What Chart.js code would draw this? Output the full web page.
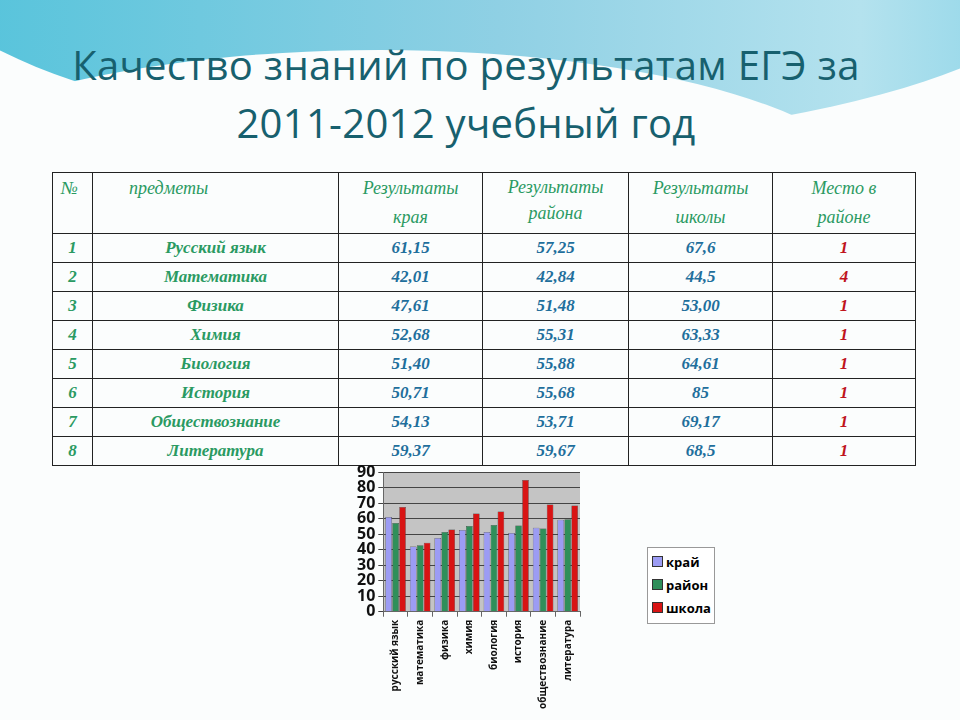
<!DOCTYPE html>
<html>
<head>
<meta charset="utf-8">
<script src="https://cdn.jsdelivr.net/npm/chart.js@4"></script>
<style>
  body { margin: 0; width: 960px; height: 720px; overflow: hidden; background: #fbfdfd; position: relative; font-family: "Open Sans", sans-serif; }
  .bgtop { position: absolute; left: -100px; top: -260px; width: 1200px; height: 400px; border-radius: 50%;
    background: linear-gradient(90deg, #4fc2da 0%, #8fd0e4 50%, #b4e2ee 80%, #7fd0e6 100%); }
  .bgcut { position: absolute; left: -120px; top: 50px; width: 1000px; height: 300px; border-radius: 50%; background: #fbfdfd; }
  h1 { position: absolute; left: -14px; top: 36px; width: 960px; margin: 0; text-align: center; font-weight: normal;
    font-family: "Open Sans", sans-serif; font-size: 40px; line-height: 58px; color: #17606e; letter-spacing: 0.3px; }
  table { position: absolute; left: 52px; top: 172px; border-collapse: collapse; font-family: "Liberation Serif", serif; font-style: italic; }
  td { border: 1.5px solid #222; padding: 0; text-align: center; height: 28px; font-weight: bold; font-size: 17px; color: #1f6f9c; }
  th { border: 1.5px solid #222; font-weight: normal; font-size: 18px; color: #2a9a62; height: 58px; vertical-align: top; line-height: 29px; }
  td.g { color: #2a9a62; }
  td.r { color: #c0141c; }
  #wrap { position: absolute; left: 350px; top: 462px; width: 250px; height: 250px; }
  #legend { position: absolute; left: 647px; top: 547px; width: 62px; border: 1px solid #999; background: #fff; padding: 3px 0 3px 4px;
    font: bold 13px "Open Sans", sans-serif; }
  #legend div { height: 23px; line-height: 23px; }
  #legend span { display: inline-block; width: 9px; height: 9px; border: 1px solid #333; margin-right: 3px; }
</style>
</head>
<body>
<div class="bgtop"></div><div class="bgcut"></div>
<h1>Качество знаний по результатам ЕГЭ за<br>2011-2012 учебный год</h1>
<table id="tbl">
  <colgroup><col style="width:40px"><col style="width:246px"><col style="width:144px"><col style="width:146px"><col style="width:144px"><col style="width:143px"></colgroup>
  <tr><th style="text-align:left;padding-left:8px">№</th><th style="text-align:left;padding-left:36px">предметы</th><th>Результаты<br>края</th><th style="line-height:26px">Результаты<br>района</th><th>Результаты<br>школы</th><th>Место в<br>районе</th></tr>
</table>
<div id="wrap"><canvas id="chart"></canvas></div>
<div id="legend"></div>
<script>
const subjects = ["Русский язык", "Математика", "Физика", "Химия", "Биология", "История", "Обществознание", "Литература"];
const krai = [61.15, 42.01, 47.61, 52.68, 51.40, 50.71, 54.13, 59.37];
const raion = [57.25, 42.84, 51.48, 55.31, 55.88, 55.68, 53.71, 59.67];
const shkola = [67.6, 44.5, 53.00, 63.33, 64.61, 85, 69.17, 68.5];
const shkolaText = ["67,6", "44,5", "53,00", "63,33", "64,61", "85", "69,17", "68,5"];
const places = [1, 4, 1, 1, 1, 1, 1, 1];
const seriesNames = ["край", "район", "школа"];
const seriesColors = ["#9c9cf4", "#2f8f5a", "#d81414"];

const fmt = v => v.toFixed(2).replace(".", ",");
const tbl = document.getElementById("tbl");
subjects.forEach((s, i) => {
  const tr = document.createElement("tr");
  tr.innerHTML = `<td class="g">${i + 1}</td><td class="g">${s}</td><td>${fmt(krai[i])}</td><td>${fmt(raion[i])}</td><td>${shkolaText[i]}</td><td class="r">${places[i]}</td>`;
  tbl.appendChild(tr);
});

const values = [krai, raion, shkola];
const legend = document.getElementById("legend");
seriesNames.forEach((n, i) => {
  legend.innerHTML += `<div><span style="background:${seriesColors[i]}"></span>${n}</div>`;
});

const plotBg = {
  id: "plotBg",
  beforeDraw(chart) {
    const a = chart.chartArea, ctx = chart.ctx;
    ctx.save();
    ctx.fillStyle = "#c4c4c4";
    ctx.fillRect(a.left, a.top, a.right - a.left, a.bottom - a.top);
    ctx.restore();
  }
};

new Chart(document.getElementById("chart"), {
  type: "bar",
  data: {
    labels: subjects.map(s => s.toLowerCase()),
    datasets: seriesNames.map((n, i) => ({
      label: n,
      data: values[i],
      backgroundColor: seriesColors[i],
      borderColor: "#333",
      borderWidth: 0.5,
      barPercentage: 0.95,
      categoryPercentage: 0.85
    }))
  },
  options: {
    responsive: true,
    maintainAspectRatio: false,
    animation: false,
    layout: { padding: { top: 0, right: 20, left: 4 } },
    plugins: { legend: { display: false }, tooltip: { enabled: false } },
    scales: {
      x: {
        grid: { color: "#666", drawOnChartArea: false, tickLength: 5 },
        border: { color: "#666" },
        ticks: { color: "#111", minRotation: 90, maxRotation: 90, autoSkip: false, font: { family: "Open Sans", size: 10, weight: "bold" } }
      },
      y: {
        min: 0, max: 90,
        grid: { color: "#444", tickLength: 5 },
        border: { color: "#666" },
        ticks: { stepSize: 10, autoSkip: false, color: "#111", padding: 3, font: { family: "Open Sans", size: 16, weight: "bold", lineHeight: 0.9 } }
      }
    }
  },
  plugins: [plotBg]
});
</script>
</body>
</html>
